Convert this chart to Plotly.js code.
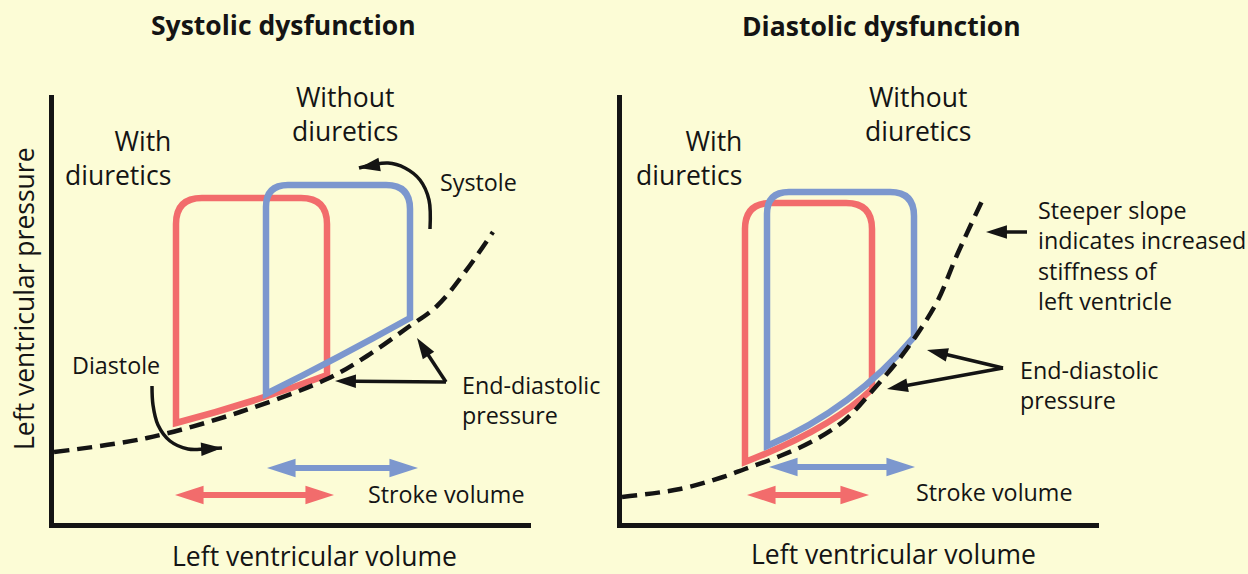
<!DOCTYPE html>
<html><head><meta charset="utf-8">
<script src="https://cdn.plot.ly/plotly-3.0.1.min.js"></script>
<style>html,body{margin:0;padding:0;background:#FCFCD6;} #chart{width:1248px;height:574px;}</style>
</head><body><div id="chart"></div>
<script>
// ===== DATA (schematic units: volume →, pressure ↑) =====
// Systolic dysfunction panel
const sysEdpvrVolume   = [0, 93, 186, 273, 313, 353, 383, 411, 439];
const sysEdpvrPressure = [71, 85, 111, 144, 167, 195, 217, 251, 291];
// loops, index 0 = with diuretics, 1 = without diuretics
const loopNames       = ['With diuretics', 'Without diuretics'];
const sysLoopEsv      = [122, 212];
const sysLoopEdv      = [273, 356];
const sysLoopPeakP    = [325, 338];
const sysLoopEdp      = [148, 205];
const sysLoopMinP     = [100, 129];
const sysLoopFillVol  = [198, 284];
const sysLoopFillP    = [122, 166];
const sysStrokeFrom   = [121, 213];
const sysStrokeTo     = [280, 364];
const sysStrokeLevel  = [28, 55];
// black pointer arrows (systolic)
const sysSystoleVol   = [376, 375, 366, 351, 334, 305];
const sysSystoleP     = [294, 323, 343, 355, 360, 355];
const sysDiastoleVol  = [98, 99, 104, 116, 134, 151, 168];
const sysDiastoleP    = [137, 118, 98, 82, 74, 74, 75];
const sysEdpTailVol   = 392, sysEdpTailP = 141;
const sysEdpTipVol    = [363, 281];
const sysEdpTipP      = [185, 142];

// Diastolic dysfunction panel
const diaEdpvrVolume   = [0, 58, 101, 123, 158, 191, 223, 251, 278, 298, 316, 335, 360];
const diaEdpvrPressure = [26, 34, 46, 54, 67, 82, 103, 133, 165, 193, 223, 268, 322];
const diaLoopEsv      = [123, 145];
const diaLoopEdv      = [250, 292];
const diaLoopPeakP    = [320, 331];
const diaLoopEdp      = [134, 186];
const diaLoopMinP     = [61, 77];
const diaLoopFillVol  = [198, 225];
const diaLoopFillP    = [96, 123];
const diaStrokeFrom   = [125, 147];
const diaStrokeTo     = [247, 293];
const diaStrokeLevel  = [28, 56];
const diaEdpTailVol   = 381, diaEdpTailP = 155;
const diaEdpTipVol    = [305, 265];
const diaEdpTipP      = [173, 134];
const diaSlopeTailVol = 405, diaSlopeTipVol = 364, diaSlopeP = 291;

// ===== STYLE =====
const W = 1248, H = 574;
const BG = '#FCFCD6';
const INK = '#141414';
const loopColors = ['#F26C6C', '#7C97CE'];
const FONT = 'Open Sans, Noto Sans, sans-serif';
const cornerR = [[26, 26], [22, 24]]; // [top-left, top-right] radii per loop

const traces = [];
const shapes = [];

function loopPath(esv, edv, minP, peakP, edp, fv, fp, r) {
  const [rl, rr] = r;
  // control point so the filling curve passes through (fv, fp)
  const cx = 2 * fv - (edv + esv) / 2;
  const cy = 2 * fp - (edp + minP) / 2;
  return `M${esv},${minP} L${esv},${peakP - rl} Q${esv},${peakP} ${esv + rl},${peakP} ` +
         `L${edv - rr},${peakP} Q${edv},${peakP} ${edv},${peakP - rr} L${edv},${edp} ` +
         `Q${cx},${cy} ${esv},${minP} Z`;
}

function addPanel(ax, ay, d) {
  for (let i = 0; i < 2; i++) {
    shapes.push({
      type: 'path', xref: ax, yref: ay, layer: 'below',
      path: loopPath(d.esv[i], d.edv[i], d.minP[i], d.peakP[i], d.edp[i], d.fv[i], d.fp[i], cornerR[i]),
      line: {color: loopColors[i], width: 6.5}, fillcolor: 'rgba(0,0,0,0)'
    });
  }
  traces.push({
    x: d.edpvrV, y: d.edpvrP, xaxis: ax, yaxis: ay, mode: 'lines', type: 'scatter',
    line: {color: INK, width: 4.5, dash: '15px,8px', shape: 'spline', smoothing: 1},
    hoverinfo: 'skip', showlegend: false, name: 'EDPVR'
  });
  // stroke volume double arrows: two overlapping halves, each with one head
  for (let i = 0; i < 2; i++) {
    const a = d.svFrom[i], b = d.svTo[i];
    const halves = [[a + 0.75 * (b - a), a], [a + 0.25 * (b - a), b]];
    halves.forEach(function (h) {
      traces.push({
        x: h, y: [d.svLevel[i], d.svLevel[i]], xaxis: ax, yaxis: ay,
        type: 'scatter', mode: 'lines+markers', hoverinfo: 'skip', showlegend: false,
        name: 'Stroke volume ' + loopNames[i],
        line: {color: loopColors[i], width: 6, backoff: 'auto'},
        marker: {symbol: 'arrow', size: [0, 30], opacity: 1, angleref: 'previous',
                 color: loopColors[i], line: {width: 0}}
      });
    });
  }
}

function pointer(ax, ay, xs, ys, spline) {
  const sizes = xs.map((v, i) => i === xs.length - 1 ? 22 : 0);
  traces.push({
    x: xs, y: ys, xaxis: ax, yaxis: ay, type: 'scatter', mode: 'lines+markers',
    hoverinfo: 'skip', showlegend: false,
    line: {color: INK, width: 3.5, shape: spline ? 'spline' : 'linear', backoff: 'auto'},
    marker: {symbol: 'arrow', size: sizes, opacity: 1, angleref: 'previous', color: INK, line: {width: 0}}
  });
}

addPanel('x', 'y', {
  esv: sysLoopEsv, edv: sysLoopEdv, minP: sysLoopMinP, peakP: sysLoopPeakP, edp: sysLoopEdp,
  fv: sysLoopFillVol, fp: sysLoopFillP, edpvrV: sysEdpvrVolume, edpvrP: sysEdpvrPressure,
  svFrom: sysStrokeFrom, svTo: sysStrokeTo, svLevel: sysStrokeLevel
});
addPanel('x2', 'y2', {
  esv: diaLoopEsv, edv: diaLoopEdv, minP: diaLoopMinP, peakP: diaLoopPeakP, edp: diaLoopEdp,
  fv: diaLoopFillVol, fp: diaLoopFillP, edpvrV: diaEdpvrVolume, edpvrP: diaEdpvrPressure,
  svFrom: diaStrokeFrom, svTo: diaStrokeTo, svLevel: diaStrokeLevel
});

pointer('x', 'y', sysSystoleVol, sysSystoleP, true);
pointer('x', 'y', sysDiastoleVol, sysDiastoleP, true);
for (let i = 0; i < 2; i++) {
  pointer('x', 'y', [sysEdpTailVol, sysEdpTipVol[i]], [sysEdpTailP, sysEdpTipP[i]], false);
  pointer('x2', 'y2', [diaEdpTailVol, diaEdpTipVol[i]], [diaEdpTailP, diaEdpTipP[i]], false);
}
pointer('x2', 'y2', [diaSlopeTailVol, diaSlopeTipVol], [diaSlopeP, diaSlopeP], false);

// ===== TEXT =====
const BIG = 26.5, SMALL = 23.3, TITLE = 26.5;
function px(x) { return x / W; }
function py(y) { return 1 - y / H; }
function label(text, x, y, size, xanchor, align, extra) {
  return Object.assign({
    text: text, xref: 'paper', yref: 'paper', x: px(x), y: py(y),
    xanchor: xanchor, yanchor: 'middle', align: align, showarrow: false,
    font: {family: FONT, size: size, color: INK}
  }, extra || {});
}
const annotations = [
  label('<b>Systolic dysfunction</b>', 283, 25, TITLE, 'center', 'center'),
  label('<b>Diastolic dysfunction</b>', 881, 26, TITLE, 'center', 'center'),
  label('Left ventricular volume', 314, 556, BIG, 'center', 'center'),
  label('Left ventricular volume', 893, 554, BIG, 'center', 'center'),
  label('Left ventricular pressure', 24, 299, BIG, 'center', 'center', {textangle: -90}),
  label('With<br>diuretics', 173, 158, BIG, 'right', 'right'),
  label('Without<br>diuretics', 345, 114, BIG, 'center', 'center'),
  label('With<br>diuretics', 744, 158, BIG, 'right', 'right'),
  label('Without<br>diuretics', 918, 114, BIG, 'center', 'center'),
  label('Systole', 438, 182, SMALL, 'left', 'left'),
  label('Diastole', 70, 365, SMALL, 'left', 'left'),
  label('End-diastolic<br>pressure', 460, 400, SMALL, 'left', 'left'),
  label('Stroke volume', 366, 494, SMALL, 'left', 'left'),
  label('Steeper slope<br>indicates increased<br>stiffness of<br>left ventricle', 1036, 255, SMALL, 'left', 'left'),
  label('End-diastolic<br>pressure', 1018, 385, SMALL, 'left', 'left'),
  label('Stroke volume', 914, 492, SMALL, 'left', 'left')
];

const axBase = {
  showgrid: false, zeroline: false, showticklabels: false, ticks: '',
  showline: true, linecolor: INK, linewidth: 5, fixedrange: true
};
const layout = {
  width: W, height: H,
  margin: {l: 0, r: 0, t: 0, b: 0},
  paper_bgcolor: BG, plot_bgcolor: 'rgba(0,0,0,0)',
  showlegend: false,
  xaxis: Object.assign({}, axBase, {domain: [54 / W, 531 / W], range: [0, 477], anchor: 'y'}),
  yaxis: Object.assign({}, axBase, {domain: [51 / H, 479 / H], range: [0, 428], anchor: 'x'}),
  xaxis2: Object.assign({}, axBase, {domain: [622 / W, 1099 / W], range: [0, 477], anchor: 'y2'}),
  yaxis2: Object.assign({}, axBase, {domain: [51 / H, 479 / H], range: [0, 428], anchor: 'x2'}),
  shapes: shapes,
  annotations: annotations,
  font: {family: FONT, color: INK}
};

Plotly.newPlot('chart', traces, layout, {displayModeBar: false, staticPlot: true});
</script>
</body></html>
